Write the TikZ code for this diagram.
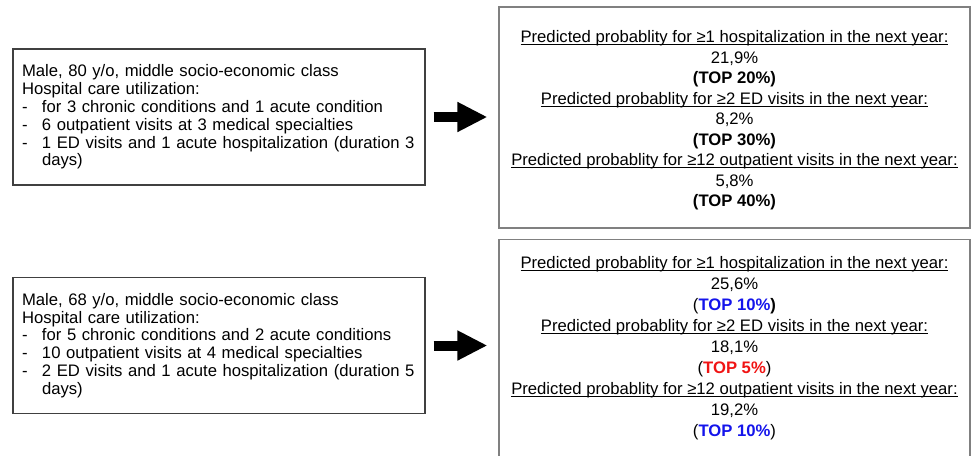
\documentclass[tikz,border=0pt]{standalone}
\usepackage{fontspec}
\setmainfont{Liberation Sans}
\usetikzlibrary{arrows.meta}
\definecolor{topblue}{RGB}{20,20,235}
\definecolor{topred}{RGB}{240,20,20}
\newcommand{\itm}{\makebox[15pt][l]{-}}
\newcommand{\cont}{\hspace*{15pt}}
\newcommand{\uln}[1]{\setbox0\hbox{#1}\rlap{\rule[-1.8pt]{\wd0}{0.7pt}}\box0}
\tikzset{
	patientbox/.style={draw=black!75, line width=0.9pt, minimum width=309pt, minimum height=102pt, text width=295.5pt, inner xsep=6.75pt, align=left, font=\fontsize{12.5}{13.35}\selectfont},
	predbox/.style={draw=black!50, line width=0.9pt, minimum width=353.25pt},
	predtext/.style={align=center, font=\fontsize{12.5}{15.4}\selectfont},
	bigarrow/.style={line width=7.5pt, -{Triangle[length=22.5pt,width=21pt]}, shorten <=6pt, shorten >=8.25pt}
}
\begin{document}
\begin{tikzpicture}[x=0.75pt, y=-0.75pt]
			\useasboundingbox (0,0) rectangle (971,455);
			\clip (0,0) rectangle (971,455);
			% patients
			\node[patientbox] (patientA) at (219,117) {Male, 80 y/o, middle socio-economic class\\Hospital care utilization:\\\itm for 3 chronic conditions and 1 acute condition\\\itm 6 outpatient visits at 3 medical specialties\\\itm 1 ED visits and 1 acute hospitalization (duration 3\\\cont days)};
			\node[patientbox] (patientB) at (219,345.5) {Male, 68 y/o, middle socio-economic class\\Hospital care utilization:\\\itm for 5 chronic conditions and 2 acute conditions\\\itm 10 outpatient visits at 4 medical specialties\\\itm 2 ED visits and 1 acute hospitalization (duration 5\\\cont days)};
			% predictions
			\node[predbox, minimum height=165.75pt] (predA) at (734.5,117.5) {};
			\node[predtext] (predAtext) at (734.5,120.5) {\uln{Predicted probablity for ≥1 hospitalization in the next year:}\\21,9\%\\\textbf{(TOP 20\%)}\\\uln{Predicted probablity for ≥2 ED visits in the next year:}\\8,2\%\\\textbf{(TOP 30\%)}\\\uln{Predicted probablity for ≥12 outpatient visits in the next year:}\\5,8\%\\\textbf{(TOP 40\%)}};
			\node[predbox, minimum height=173.25pt, anchor=north] (predB) at (734.5,239) {};
			\node[predtext, font=\fontsize{12.5}{15.7}\selectfont] (predBtext) at (734.5,348) {\uln{Predicted probablity for ≥1 hospitalization in the next year:}\\25,6\%\\(\textbf{{\color{topblue}TOP 10\%})}\\\uln{Predicted probablity for ≥2 ED visits in the next year:}\\18,1\%\\(\textbf{\color{topred}TOP 5\%})\\\uln{Predicted probablity for ≥12 outpatient visits in the next year:}\\19,2\%\\(\textbf{\color{topblue}TOP 10\%})};
			% arrows
			\draw[bigarrow] (patientA.east) -- (patientA.east -| predA.west);
			\draw[bigarrow] (patientB.east) -- (patientB.east -| predB.west);
		\end{tikzpicture}
\end{document}
